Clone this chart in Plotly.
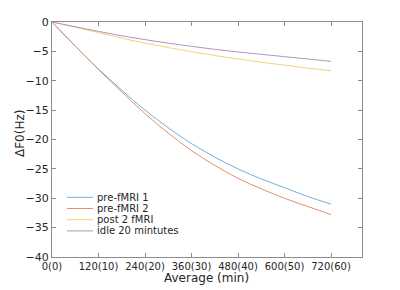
import plotly.graph_objects as go

minutes = [0, 60, 120, 180, 240, 300, 360, 420, 480, 540, 600, 660, 720]
pre_fmri_1 = [0, -4.1, -8.0, -11.6, -15.0, -18.0, -20.7, -23.0, -25.0, -26.7, -28.2, -29.7, -31.0]
pre_fmri_2 = [0, -4.1, -8.1, -11.9, -15.6, -18.9, -21.9, -24.4, -26.6, -28.4, -30.0, -31.4, -32.8]
post_2_fmri = [0, -0.9, -1.8, -2.75, -3.6, -4.35, -5.05, -5.7, -6.3, -6.85, -7.35, -7.85, -8.3]
idle_20 = [0, -0.8, -1.6, -2.35, -3.0, -3.6, -4.15, -4.65, -5.1, -5.5, -5.9, -6.3, -6.7]

series_names = ["pre-fMRI 1", "pre-fMRI 2", "post 2 fMRI", "idle 20 mintutes"]
series_vals = [pre_fmri_1, pre_fmri_2, post_2_fmri, idle_20]
colors = ["#6fb2da", "#e3906f", "#eed47a", "#b393bd"]

x_tickvals = [0, 120, 240, 360, 480, 600, 720]
x_ticktext = ["0(0)", "120(10)", "240(20)", "360(30)", "480(40)", "600(50)", "720(60)"]
y_tickvals = [0, -5, -10, -15, -20, -25, -30, -35, -40]

# page body adds an 8px offset; targets are in screen pixels
OFF = 8
W, H = 392, 282
SL, ST, SR, SB = 52, 22, 362, 257   # plot area on screen
ML, MT = SL - OFF, ST - OFF
MR, MB = W - (SR - OFF), H - (SB - OFF)
PW, PH = SR - SL, SB - ST

def px(x):
    return (x - SL) / PW

def py(y):
    return (SB - y) / PH

fig = go.Figure()
for name, vals, c in zip(series_names, series_vals, colors):
    fig.add_trace(go.Scatter(x=minutes, y=vals, mode="lines", name=name,
                             line=dict(color=c, width=1, shape="spline"),
                             showlegend=False))

font = "DejaVu Sans, sans-serif"
txtc = "#262626"

shapes = []
annotations = []
row0, rowgap = 197.3, 11.2
for i, (name, c) in enumerate(zip(series_names, colors)):
    yy = row0 + i * rowgap
    shapes.append(dict(type="line", xref="paper", yref="paper",
                       x0=px(67), x1=px(93), y0=py(yy), y1=py(yy),
                       line=dict(color=c, width=1)))
    annotations.append(dict(text=name, xref="paper", yref="paper",
                            x=px(95), y=py(yy), xanchor="left", yanchor="middle",
                            showarrow=False, font=dict(size=10, family=font, color=txtc)))

annotations.append(dict(text="ΔF0(Hz)", xref="paper", yref="paper",
                        x=px(20), y=py(134), xanchor="center", yanchor="middle", textangle=-90,
                        showarrow=False, font=dict(size=12, family=font, color=txtc)))
annotations.append(dict(text="Average (min)", xref="paper", yref="paper",
                        x=px(206), y=py(278), xanchor="center", yanchor="middle",
                        showarrow=False, font=dict(size=12, family=font, color=txtc)))

fig.update_layout(
    width=W, height=H,
    margin=dict(l=ML, r=MR, t=MT, b=MB),
    paper_bgcolor="white", plot_bgcolor="white",
    font=dict(family=font, size=11, color=txtc),
    showlegend=False,
    shapes=shapes,
    annotations=annotations,
    xaxis=dict(range=[0, 800], tickvals=x_tickvals, ticktext=x_ticktext,
               showgrid=False, zeroline=False, showline=True, linecolor="#8c8c8c",
               linewidth=1, mirror="ticks", ticks="inside", ticklen=4, tickcolor="#8c8c8c",
               automargin=False, tickfont=dict(size=10)),
    yaxis=dict(range=[-40, 0], tickvals=y_tickvals,
               showgrid=False, zeroline=False, showline=True, linecolor="#8c8c8c",
               linewidth=1, mirror="ticks", ticks="inside", ticklen=4, tickcolor="#8c8c8c",
               automargin=False, tickfont=dict(size=11)),
)

fig.write_html("out.html")
